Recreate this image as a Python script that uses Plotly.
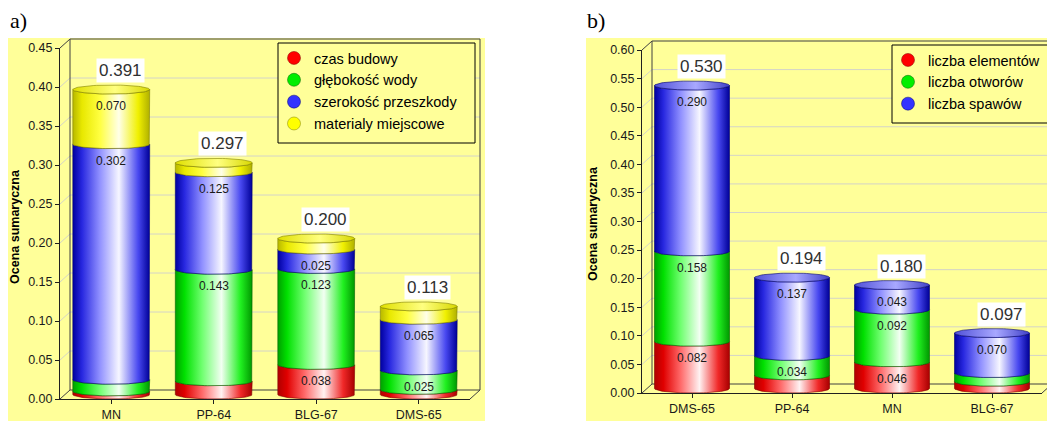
import numpy as np
import plotly.graph_objects as go

W, H = 1047, 421

# ---------------- data: panel a ----------------
cats_a = ["MN", "PP-64", "BLG-67", "DMS-65"]
names_a = ["czas budowy", "głębokość wody", "szerokość przeszkody", "materialy miejscowe"]
czas_budowy = [0.004, 0.017, 0.038, 0.006]
glebokosc_wody = [0.015, 0.143, 0.123, 0.025]
szerokosc_przeszkody = [0.302, 0.125, 0.025, 0.065]
materialy_miejscowe = [0.070, 0.012, 0.014, 0.017]
totals_a = [0.391, 0.297, 0.200, 0.113]

# ---------------- data: panel b ----------------
cats_b = ["DMS-65", "PP-64", "MN", "BLG-67"]
names_b = ["liczba elementów", "liczba otworów", "liczba spawów"]
liczba_elementow = [0.082, 0.023, 0.046, 0.012]
liczba_otworow = [0.158, 0.034, 0.092, 0.015]
liczba_spawow = [0.290, 0.137, 0.043, 0.070]
totals_b = [0.530, 0.194, 0.180, 0.097]

FONT = "Liberation Sans, Arial, sans-serif"
PANEL = "#FFFF99"

STYLE = {
    "red": dict(
        scale=[[0, "#B00000"], [0.12, "#E00000"], [0.35, "#FF6A6A"], [0.6, "#FFF2F2"], [0.85, "#F02828"], [1, "#A80000"]],
        cap=[[0, "#D02020"], [0.55, "#FF9090"], [1, "#C01010"]],
        line="#800000", dot="#FF0000"),
    "green": dict(
        scale=[[0, "#00A000"], [0.12, "#00E000"], [0.35, "#70FF70"], [0.6, "#F2FFF2"], [0.85, "#20F020"], [1, "#009800"]],
        cap=[[0, "#20C020"], [0.55, "#90FF90"], [1, "#10B010"]],
        line="#006000", dot="#00EE00"),
    "blue": dict(
        scale=[[0, "#0000A0"], [0.12, "#2828E0"], [0.35, "#9090FF"], [0.6, "#F6F6FF"], [0.85, "#4848F0"], [1, "#000098"]],
        cap=[[0, "#5050D8"], [0.55, "#A8A8FF"], [1, "#4040C8"]],
        line="#000070", dot="#3333FF"),
    "yellow": dict(
        scale=[[0, "#B8B800"], [0.12, "#E8E800"], [0.35, "#FFFF40"], [0.6, "#FFFFE8"], [0.85, "#F0F000"], [1, "#B0B000"]],
        cap=[[0, "#E0E000"], [0.55, "#FFFF80"], [1, "#D8D800"]],
        line="#808000", dot="#FFFF00"),
}

panels = [
    dict(xa="x", ya="y", cats=cats_a, names=names_a,
         series=[czas_budowy, glebokosc_wody, szerokosc_przeszkody, materialy_miejscowe],
         colors=["red", "green", "blue", "yellow"], totals=totals_a,
         x0=60, x1=470, ytop=48, ybot=399, ymax=0.45, dx=10, dy=9,
         bg=(8, 485), legend="legend", box=(278, 43, 475, 143), lx=274, ly=42,
         tag="a)", tagx=8, title_y=227),
    dict(xa="x2", ya="y2", cats=cats_b, names=names_b,
         series=[liczba_elementow, liczba_otworow, liczba_spawow],
         colors=["red", "green", "blue"], totals=totals_b,
         x0=642, x1=1042, ytop=50, ybot=393, ymax=0.60, dx=10, dy=9,
         bg=(586, 1047), legend="legend2", box=(892, 45, 1052, 123), lx=888, ly=44,
         tag="b)", tagx=585, title_y=224),
]

fig = go.Figure()
shapes, annos = [], []


def px(x):
    return x / W


def py(y):
    return 1 - y / H


HALF_W = 0.375
RY_PX = 4.5
for p in panels:
    n = len(p["cats"])
    ppu = (p["ybot"] - p["ytop"]) / p["ymax"]  # pixels per unit
    ry = RY_PX / ppu

    def ypix(v, p=p, ppu=ppu):
        return p["ybot"] - v * ppu

    # panel background
    shapes.append(dict(type="rect", xref="paper", yref="paper", layer="below",
                       x0=px(p["bg"][0]), x1=px(p["bg"][1]), y0=0, y1=py(38),
                       fillcolor=PANEL, line=dict(width=0)))
    # 3D back wall: grid lines
    dx, dy = p["dx"], p["dy"]
    ticks = np.round(np.arange(0, p["ymax"] + 1e-9, 0.05), 2)
    for v in ticks[1:-1]:
        yv = ypix(v)
        shapes.append(dict(type="line", xref="paper", yref="paper", layer="below",
                           x0=px(p["x0"] + dx), x1=px(p["x1"] + dx), y0=py(yv - dy), y1=py(yv - dy),
                           line=dict(color="#D4D4C8", width=1)))
        shapes.append(dict(type="line", xref="paper", yref="paper", layer="below",
                           x0=px(p["x0"]), x1=px(p["x0"] + dx), y0=py(yv), y1=py(yv - dy),
                           line=dict(color="#D4D4C8", width=1)))
    yt, yb = ypix(p["ymax"]), ypix(0)
    edge = dict(color="#404040", width=1)
    segs = [
        ((p["x0"] + dx, yt - dy), (p["x1"] + dx, yt - dy)),
        ((p["x0"] + dx, yt - dy), (p["x0"] + dx, yb - dy)),
        ((p["x1"] + dx, yt - dy), (p["x1"] + dx, yb - dy)),
        ((p["x0"] + dx, yb - dy), (p["x1"] + dx, yb - dy)),
        ((p["x0"], yt), (p["x0"] + dx, yt - dy)),
        ((p["x0"], yb), (p["x0"] + dx, yb - dy)),
        ((p["x1"], yb), (p["x1"] + dx, yb - dy)),
    ]
    for (a, b) in segs:
        shapes.append(dict(type="line", xref="paper", yref="paper", layer="below",
                           x0=px(a[0]), y0=py(a[1]), x1=px(b[0]), y1=py(b[1]), line=edge))

    # legend frame
    bx0, by0, bx1, by1 = p["box"]
    shapes.append(dict(type="rect", xref="paper", yref="paper", layer="above",
                       x0=px(bx0), x1=px(bx1), y0=py(by1), y1=py(by0),
                       fillcolor=PANEL, line=dict(color="black", width=1)))

    # cylinders
    for i in range(n):
        c = i
        base = 0.0
        th = np.linspace(0, np.pi, 41)
        for s, cname in zip(p["series"], p["colors"]):
            v = s[i]
            top = base + v
            st = STYLE[cname]
            xs = np.concatenate([c - HALF_W * np.cos(th), c + HALF_W * np.cos(th), [c - HALF_W]])
            ys = np.concatenate([top + ry - ry * np.sin(th), base + ry - ry * np.sin(th), [top + ry]])
            fig.add_trace(go.Scatter(
                x=xs, y=ys, xaxis=p["xa"], yaxis=p["ya"], mode="lines", fill="toself",
                fillgradient=dict(type="horizontal", colorscale=st["scale"],
                                  start=c - HALF_W, stop=c + HALF_W),
                line=dict(color=st["line"], width=0.6), hoverinfo="skip", showlegend=False))
            if v >= 0.025:
                annos.append(dict(x=c, y=top, xref=p["xa"], yref=p["ya"], text=f"{v:.3f}",
                                  showarrow=False, yanchor="top", yshift=-3,
                                  font=dict(family=FONT, size=12, color="#1A1A1A")))
            base = top
        # top cap
        st = STYLE[p["colors"][-1]]
        t2 = np.linspace(0, 2 * np.pi, 81)
        fig.add_trace(go.Scatter(
            x=c + HALF_W * np.cos(t2), y=base + ry + ry * np.sin(t2),
            xaxis=p["xa"], yaxis=p["ya"], mode="lines", fill="toself",
            fillgradient=dict(type="horizontal", colorscale=st["cap"],
                              start=c - HALF_W, stop=c + HALF_W),
            line=dict(color=st["line"], width=0.6), hoverinfo="skip", showlegend=False))
        annos.append(dict(x=c, y=p["totals"][i], xref=p["xa"], yref=p["ya"],
                          text=f"{p['totals'][i]:.3f}", showarrow=False,
                          yanchor="bottom", yshift=11, xshift=9,
                          bgcolor="white", borderpad=2,
                          font=dict(family=FONT, size=17, color="#303030")))

    # legend entries
    for nm, cname in zip(p["names"], p["colors"]):
        fig.add_trace(go.Scatter(
            x=[None], y=[None], xaxis=p["xa"], yaxis=p["ya"], mode="markers", name=nm,
            legend=p["legend"],
            marker=dict(size=13, color=STYLE[cname]["dot"], line=dict(color=STYLE[cname]["line"], width=0.5))))

    # tags and titles
    annos.append(dict(x=px(p["tagx"]), y=py(21), xref="paper", yref="paper", text=p["tag"],
                      showarrow=False, xanchor="left", yanchor="middle",
                      font=dict(family="Liberation Serif, Times New Roman, serif", size=22, color="black")))
    annos.append(dict(x=px(p["bg"][0] + 7), y=py(p["title_y"]), xref="paper", yref="paper",
                      text="<b>Ocena sumaryczna</b>", textangle=-90, showarrow=False,
                      xanchor="center", yanchor="middle",
                      font=dict(family=FONT, size=12.5, color="black")))

axis_common = dict(showline=True, linecolor="#202020", linewidth=1, ticks="outside", ticklen=4,
                   tickcolor="#202020", showgrid=False, zeroline=False, fixedrange=True,
                   automargin=False,
                   tickfont=dict(family=FONT, size=12.5, color="#1A1A1A"))


def legend_cfg(p):
    return dict(x=px(p["lx"]), y=py(p["ly"]), xanchor="left", yanchor="top",
                bgcolor="rgba(0,0,0,0)", borderwidth=0,
                font=dict(family=FONT, size=14.5, color="black"), tracegroupgap=0, itemwidth=30)


pa, pb = panels
fig.update_layout(
    width=W, height=H, autosize=False, margin=dict(l=0, r=0, t=0, b=0, autoexpand=False),
    paper_bgcolor="white", plot_bgcolor="rgba(0,0,0,0)",
    xaxis=dict(domain=[px(pa["x0"]), px(pa["x1"])], range=[-0.5, 3.5],
               tickvals=list(range(4)), ticktext=cats_a, anchor="y", **axis_common),
    yaxis=dict(domain=[py(pa["ybot"]), py(pa["ytop"])], range=[0, pa["ymax"]],
               dtick=0.05, tick0=0, tickformat=".2f", anchor="x", **axis_common),
    xaxis2=dict(domain=[px(pb["x0"]), px(pb["x1"])], range=[-0.5, 3.5],
                tickvals=list(range(4)), ticktext=cats_b, anchor="y2", **axis_common),
    yaxis2=dict(domain=[py(pb["ybot"]), py(pb["ytop"])], range=[0, pb["ymax"]],
                dtick=0.05, tick0=0, tickformat=".2f", anchor="x2", **axis_common),
    legend=legend_cfg(pa),
    legend2=legend_cfg(pb),
    shapes=shapes, annotations=annos,
)

fig.write_html("out.html", config={"displayModeBar": False},
               post_script="document.body.style.margin='0px';")
